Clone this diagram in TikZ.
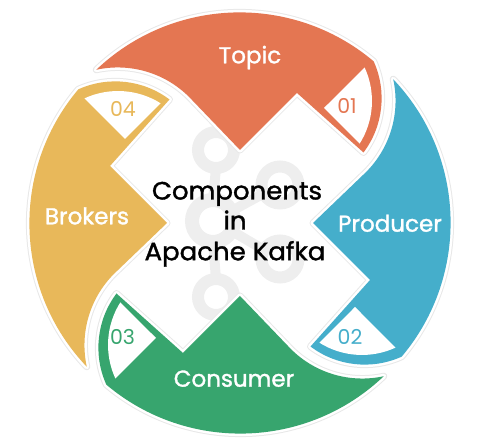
\documentclass[tikz,border=0pt]{standalone}
\usepackage{fontspec}
\setmainfont{Poppins}
\newfontfamily\labelfont{Poppins}[FakeBold=1.4]
\newfontfamily\titlefont{Poppins}[FakeBold=1.4, FakeStretch=1.04]
\definecolor{cOrange}{HTML}{E47652}
\definecolor{cBlue}{HTML}{45AECB}
\definecolor{cGreen}{HTML}{37A56E}
\definecolor{cYellow}{HTML}{E8B85A}
\definecolor{cWmark}{HTML}{EEEEEE}
\newcommand{\segshape}[1]{\path[#1] (0,73) -- (57,130) -- (123.5,70.5) arc[start angle=-37, end angle=24.3, radius=90] arc[start angle=49.9, end angle=133.6, radius=208] arc[start angle=102.3, end angle=45, radius=101] -- cycle;}
\newcommand{\tipshape}[1]{\path[#1] (84,115) -- (124.6,155.55) arc[start angle=24.8, end angle=-32.2, radius=80] -- cycle;}
\tikzset{
  wring/.style={draw=cWmark, line width=12pt},
  wbar/.style={draw=cWmark, line width=10pt},
  segshadow/.style={draw=black!9, line width=7pt, line join=round},
  segwhite/.style={draw=white, line width=5pt, line join=round},
  labeltext/.style={text=white, font=\labelfont\fontsize{23}{28}\selectfont, inner sep=0pt, anchor=base},
  centertext/.style={text=black, font=\titlefont\fontsize{25}{30}\selectfont, inner sep=0pt, anchor=base},
  numtext/.style={font=\fontsize{20.5}{24}\selectfont, inner sep=0pt, anchor=base}
}
\begin{document}
\begin{tikzpicture}[x=1pt,y=1pt]
\useasboundingbox (0,0) rectangle (480,444);
% watermark (Kafka logo)
\draw[wring] (216,294) circle[radius=18];
\draw[wring] (216,147) circle[radius=18];
\draw[draw=cWmark, line width=14pt] (213,223) circle[radius=21];
\draw[wring] (280,259) circle[radius=18.5];
\draw[wring] (280,185) circle[radius=18.5];
\draw[wbar] (216,276) -- (213,244);
\draw[wbar] (213,202) -- (216,165);
\draw[wbar] (237,236) -- (259,248);
\draw[wbar] (237,210) -- (259,197);
% outlines
\foreach \ang in {0,-90,-180,90} {
  \begin{scope}[shift={(240,221)},rotate=\ang]
    \segshape{segshadow}
  \end{scope}
}
\foreach \ang in {0,-90,-180,90} {
  \begin{scope}[shift={(240,221)},rotate=\ang]
    \segshape{segwhite}
  \end{scope}
}
% segments
\foreach \ang/\col in {0/cOrange,-90/cBlue,-180/cGreen,90/cYellow} {
  \begin{scope}[shift={(240,221)},rotate=\ang]
    \segshape{fill=\col}
    \tipshape{fill=white}
  \end{scope}
}
% numbers
\node[numtext, text=cOrange] (n01) at (347,330) {01};
\node[numtext, text=cBlue] (n02) at (350,99) {02};
\node[numtext, text=cGreen] (n03) at (122.5,99) {03};
\node[numtext, text=cYellow] (n04) at (123,327.3) {04};
% labels
\node[labeltext] (topic) at (250,380.7) {Topic};
\node[labeltext] (producer) at (390,212.3) {Producer};
\node[labeltext] (consumer) at (234,57.3) {Consumer};
\node[labeltext] (brokers) at (87,219.7) {Brokers};
% centre title
\node[centertext] (comp) at (237,244.5) {Components};
\node[centertext] (in) at (235,214.5) {in};
\node[centertext] (kafka) at (235,183.8) {Apache Kafka};
\end{tikzpicture}
\end{document}
